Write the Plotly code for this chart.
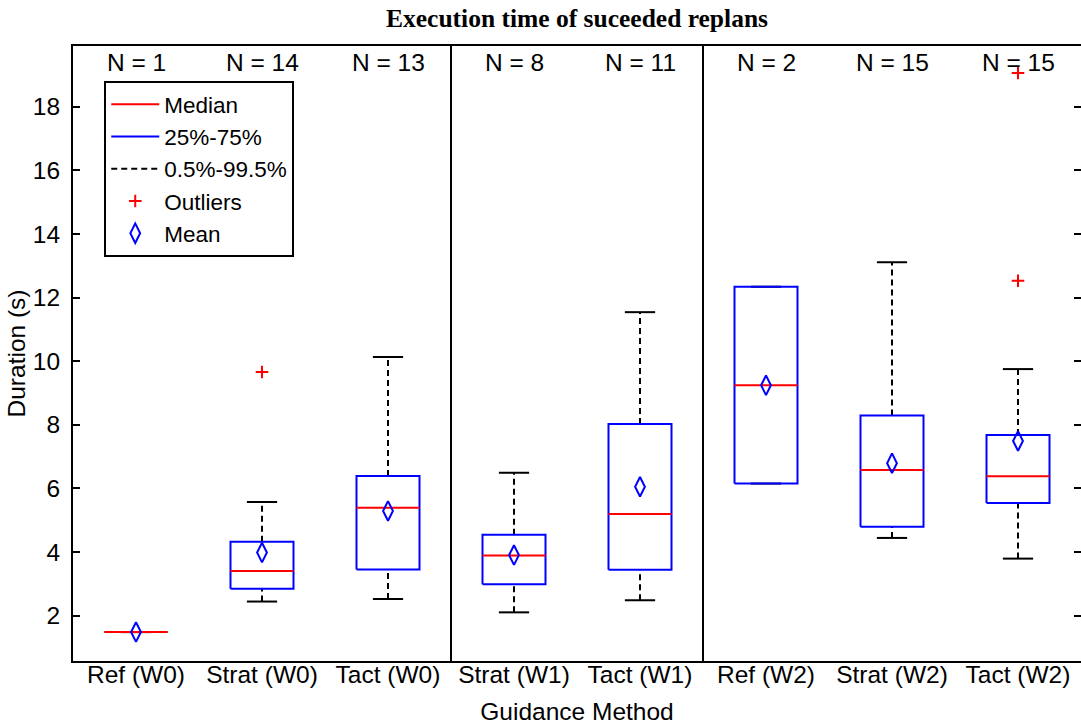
import plotly.graph_objects as go

# ---------------- data ----------------
categories = ["Ref (W0)", "Strat (W0)", "Tact (W0)", "Strat (W1)", "Tact (W1)",
              "Ref (W2)", "Strat (W2)", "Tact (W2)"]
groups = ["W0", "W0", "W0", "W1", "W1", "W2", "W2", "W2"]
n_counts = [1, 14, 13, 8, 11, 2, 15, 15]
lower_whisker = [1.48, 2.44, 2.52, 2.10, 2.48, 6.15, 4.44, 3.79]
q1 = [1.48, 2.84, 3.45, 2.98, 3.44, 6.15, 4.79, 5.54]
medians = [1.48, 3.40, 5.39, 3.89, 5.19, 9.24, 6.58, 6.38]
q3 = [1.48, 4.32, 6.39, 4.54, 8.02, 12.34, 8.29, 7.68]
upper_whisker = [1.48, 5.57, 10.13, 6.49, 11.54, 12.34, 13.11, 9.75]
means = [1.48, 3.98, 5.29, 3.90, 6.05, 9.24, 6.79, 7.49]
outlier_cat = ["Strat (W0)", "Tact (W2)", "Tact (W2)"]
outlier_val = [9.66, 12.53, 19.06]
y_ticks = [2, 4, 6, 8, 10, 12, 14, 16, 18]

# ---------------- style ----------------
BOX_HALF = 0.25
CAP_HALF = 0.12
FONT = "Liberation Sans, Arial, sans-serif"
FS = 24.5
W, H = 1081, 725
pos = list(range(1, len(categories) + 1))
pos_of = {c: p for c, p in zip(categories, pos)}

def seg_x(p, half):
    return [p - half, p + half, None]

# whiskers (dashed)
wx, wy = [], []
for p, lo, a, b, hi in zip(pos, lower_whisker, q1, q3, upper_whisker):
    wx += [p, p, None, p, p, None]
    wy += [b, hi, None, lo, a, None]
# caps
cx, cy = [], []
for p, lo, hi in zip(pos, lower_whisker, upper_whisker):
    cx += seg_x(p, CAP_HALF) + seg_x(p, CAP_HALF)
    cy += [hi, hi, None, lo, lo, None]
# boxes
bx, by = [], []
for p, a, b in zip(pos, q1, q3):
    bx += [p - BOX_HALF, p + BOX_HALF, p + BOX_HALF, p - BOX_HALF, p - BOX_HALF, None]
    by += [a, a, b, b, a, None]
# medians
mx, my = [], []
for p, m in zip(pos, medians):
    mx += seg_x(p, BOX_HALF)
    my += [m, m, None]

fig = go.Figure()
fig.add_trace(go.Scatter(x=wx, y=wy, mode="lines", name="0.5%-99.5%",
                         line=dict(color="black", width=2, dash="6px,4px"),
                         legendgroup="c", legendrank=3))
fig.add_trace(go.Scatter(x=cx, y=cy, mode="lines", showlegend=False,
                         line=dict(color="black", width=2)))
fig.add_trace(go.Scatter(x=bx, y=by, mode="lines", name="25%-75%",
                         line=dict(color="blue", width=2),
                         legendgroup="b", legendrank=2))
fig.add_trace(go.Scatter(x=mx, y=my, mode="lines", name="Median",
                         line=dict(color="red", width=2),
                         legendgroup="a", legendrank=1))
fig.add_trace(go.Scatter(x=[pos_of[c] for c in outlier_cat], y=outlier_val,
                         mode="markers", name="Outliers",
                         marker=dict(symbol="cross-thin", size=9, color="red",
                                     line=dict(color="red", width=2)),
                         legendgroup="d", legendrank=4))
fig.add_trace(go.Scatter(x=pos, y=means, mode="markers", name="Mean",
                         marker=dict(symbol="diamond-tall-open", size=14, color="blue",
                                     line=dict(color="blue", width=2)),
                         legendgroup="e", legendrank=5))

# group separators
for i in range(len(groups) - 1):
    if groups[i] != groups[i + 1]:
        fig.add_shape(type="line", xref="x", yref="paper",
                      x0=pos[i] + 0.5, x1=pos[i] + 0.5, y0=0, y1=1,
                      line=dict(color="black", width=2))

# N labels
for p, n in zip(pos, n_counts):
    fig.add_annotation(x=p, y=1, xref="x", yref="paper", yanchor="top",
                       yshift=-1, text=f"N = {n}", showarrow=False,
                       font=dict(family=FONT, size=FS, color="black"))

fig.update_layout(
    width=W, height=H,
    margin=dict(l=73, r=0, t=46, b=64, autoexpand=False),
    paper_bgcolor="white", plot_bgcolor="white",
    title=dict(text="<b>Execution time of suceeded replans</b>",
               x=0.5, xref="paper", xanchor="center",
               y=1 - 18 / H, yanchor="middle", automargin=False,
               font=dict(family="Liberation Serif, Times New Roman, serif",
                         size=25.5, color="black")),
    font=dict(family=FONT, size=FS, color="black"),
    legend=dict(x=0.031, y=0.943, xanchor="left", yanchor="top",
                bordercolor="black", borderwidth=2, bgcolor="white",
                itemwidth=48,
                font=dict(family=FONT, size=22.5, color="black"),
                traceorder="grouped", tracegroupgap=0),
    showlegend=True,
)
fig.update_xaxes(range=[0.5, 8.5], tickvals=pos, ticktext=categories,
                 ticks="", showline=True, linecolor="black", linewidth=2,
                 mirror=True, showgrid=False, zeroline=False, automargin=False,
                 ticklabelstandoff=-9,
                 tickfont=dict(family=FONT, size=FS, color="black"),
                 title=dict(text="Guidance Method", standoff=15,
                            font=dict(family=FONT, size=FS, color="black")))
fig.update_yaxes(range=[0.57, 19.91], tickvals=y_ticks,
                 ticks="inside", ticklen=7, tickwidth=2, tickcolor="black",
                 showline=True, linecolor="black", linewidth=2,
                 mirror="ticks", showgrid=False, zeroline=False, automargin=False,
                 ticklabelstandoff=6,
                 tickfont=dict(family=FONT, size=FS, color="black"),
                 title=dict(text="Duration (s)", standoff=0,
                            font=dict(family=FONT, size=FS, color="black")))

fig.write_html("out.html",
               config={"displayModeBar": False},
               post_script="document.body.style.margin='0';"
                           "document.body.style.overflow='hidden';")
